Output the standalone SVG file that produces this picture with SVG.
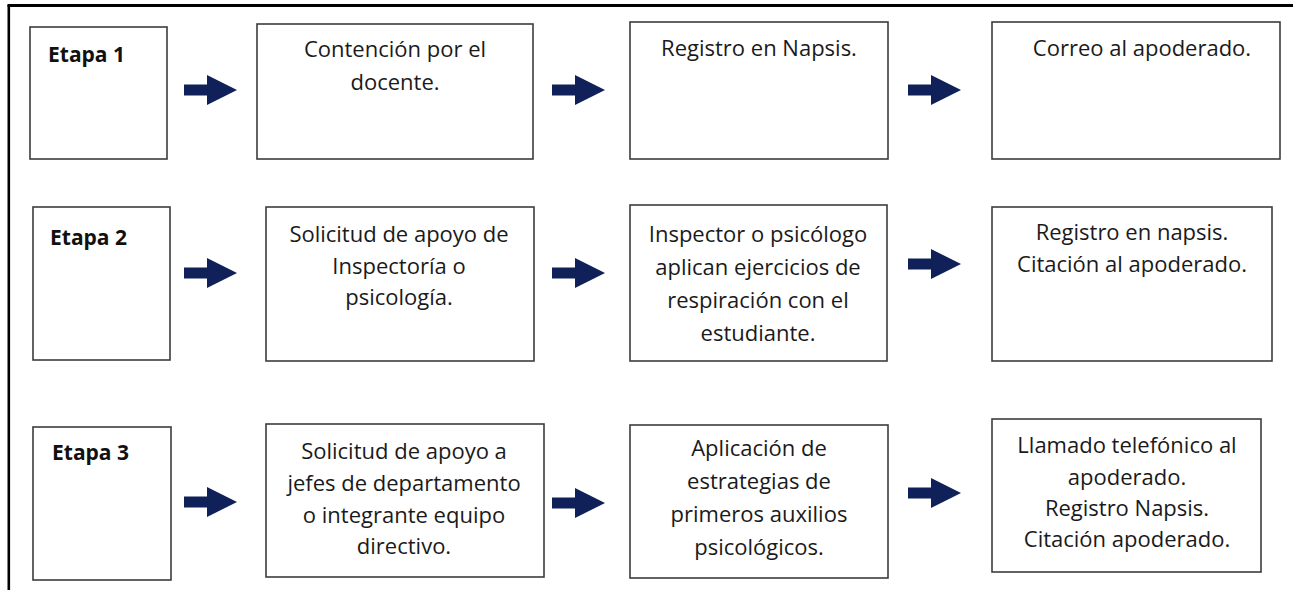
<svg xmlns="http://www.w3.org/2000/svg" width="1293" height="590" viewBox="0 0 1293 590">
<style>
.box{fill:#fff;stroke:#3c3c3c;stroke-width:1.6}
.t{font-family:"Open Sans","Liberation Sans",sans-serif;font-size:22px;fill:#1a1a1a;text-anchor:middle}
.e{font-family:"Open Sans","Liberation Sans",sans-serif;font-size:21px;font-weight:bold;fill:#111}
.arr{fill:#0f2158}
</style>
<defs>
<path id="ar" d="M0,-5.5 H23 V-15 L53,0 L23,15 V5.5 H0 Z"/>
</defs>
<rect width="1293" height="590" fill="#fff"/>
<g id="frame" fill="none" stroke="#000">
<line x1="7.5" y1="5.5" x2="1293" y2="5.5" stroke-width="3"/>
<line x1="8.8" y1="5" x2="8.8" y2="590" stroke-width="2.6"/>
</g>
<g id="connectors" class="arr">
<use href="#ar" x="184" y="90"/>
<use href="#ar" x="552" y="90"/>
<use href="#ar" x="908" y="90"/>
<use href="#ar" x="184" y="273"/>
<use href="#ar" x="552" y="273"/>
<use href="#ar" x="908" y="264"/>
<use href="#ar" x="184" y="502"/>
<use href="#ar" x="552" y="503"/>
<use href="#ar" x="908" y="493"/>
</g>
<g id="etapa1"><rect class="box" x="30" y="27" width="137" height="132"/><text class="e" x="48" y="62">Etapa 1</text></g>
<g id="r1b2"><rect class="box" x="257" y="24" width="276" height="135"/><text class="t" x="395" y="57">Contención por el</text><text class="t" x="395" y="90">docente.</text></g>
<g id="r1b3"><rect class="box" x="630" y="22" width="258" height="137"/><text class="t" x="759" y="56">Registro en Napsis.</text></g>
<g id="r1b4"><rect class="box" x="992" y="22" width="288" height="137"/><text class="t" x="1142" y="56">Correo al apoderado.</text></g>
<g id="etapa2"><rect class="box" x="33" y="207" width="137" height="153"/><text class="e" x="50" y="245">Etapa 2</text></g>
<g id="r2b2"><rect class="box" x="266" y="207" width="268" height="154"/><text class="t" x="399" y="242">Solicitud de apoyo de</text><text class="t" x="399" y="274">Inspectoría o</text><text class="t" x="399" y="305">psicología.</text></g>
<g id="r2b3"><rect class="box" x="630" y="205" width="257" height="156"/><text class="t" x="758" y="242">Inspector o psicólogo</text><text class="t" x="758" y="275">aplican ejercicios de</text><text class="t" x="758" y="308">respiración con el</text><text class="t" x="758" y="341">estudiante.</text></g>
<g id="r2b4"><rect class="box" x="992" y="207" width="280" height="154"/><text class="t" x="1132" y="240">Registro en napsis.</text><text class="t" x="1132" y="272">Citación al apoderado.</text></g>
<g id="etapa3"><rect class="box" x="33" y="427" width="138" height="153"/><text class="e" x="52" y="460">Etapa 3</text></g>
<g id="r3b2"><rect class="box" x="266" y="424" width="278" height="153"/><text class="t" x="404" y="459">Solicitud de apoyo a</text><text class="t" x="404" y="491">jefes de departamento</text><text class="t" x="404" y="523">o integrante equipo</text><text class="t" x="404" y="554">directivo.</text></g>
<g id="r3b3"><rect class="box" x="630" y="425" width="258" height="153"/><text class="t" x="759" y="456">Aplicación de</text><text class="t" x="759" y="489">estrategias de</text><text class="t" x="759" y="522">primeros auxilios</text><text class="t" x="759" y="555">psicológicos.</text></g>
<g id="r3b4"><rect class="box" x="992" y="419" width="269" height="153"/><text class="t" x="1127" y="453">Llamado telefónico al</text><text class="t" x="1127" y="485">apoderado.</text><text class="t" x="1127" y="516">Registro Napsis.</text><text class="t" x="1127" y="547">Citación apoderado.</text></g>
</svg>
